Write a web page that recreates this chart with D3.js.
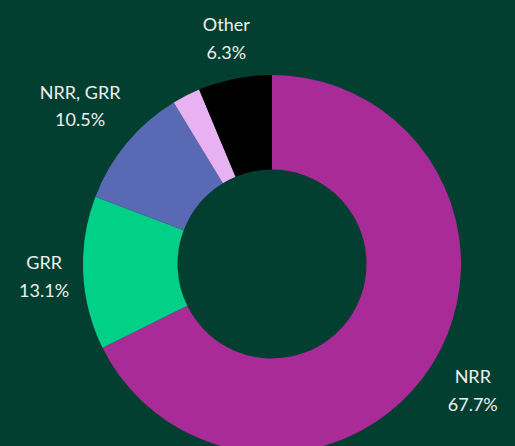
<!DOCTYPE html>
<html>
<head>
<meta charset="utf-8">
<script src="https://cdn.jsdelivr.net/npm/d3@7"></script>
<style>
  html, body { margin: 0; padding: 0; background: #023f30; }
  svg { display: block; }
</style>
</head>
<body>
<svg id="pie"></svg>
<script>
/* data */
const categories = ["NRR", "GRR", "NRR, GRR", "", "Other"];
const shares = [67.7, 13.1, 10.5, 2.4, 6.3];
const colors = ["#a82b97", "#00d088", "#5a69b4", "#e8b1f2", "#000000"];

/* chart */
!(function() {
  let width = 515;
  let height = 446;
  let cx = 272, cy = 264;
  let outer = 189, inner = 94.5;

  let svg = d3.select("#pie")
    .attr("width", width)
    .attr("height", height);

  svg.append("rect")
    .attr("width", width)
    .attr("height", height)
    .attr("fill", "#023f30");

  let g = svg.append("g")
    .attr("transform", "translate(" + cx + "," + cy + ")");

  let pie = d3.pie()
    .sort(null)
    .value(d => d);

  let arc = d3.arc()
    .outerRadius(outer)
    .innerRadius(inner);

  let arcs = pie(shares);

  g.selectAll(".arc")
    .data(arcs)
    .enter().append("path")
    .attr("class", "arc")
    .attr("d", arc)
    .attr("fill", (d, i) => colors[i]);

  // labels outside the ring, pushed out by their own box
  let lab = g.selectAll(".lab")
    .data(arcs.filter((d, i) => categories[i] !== ""))
    .enter().append("text")
    .attr("class", "lab")
    .attr("text-anchor", "middle")
    .attr("fill", "#eef0ee")
    .style("font-family", "Lato, 'Open Sans', sans-serif")
    .style("font-size", "18px");

  lab.append("tspan")
    .attr("x", 0)
    .attr("dy", "-0.35em")
    .text(d => categories[d.index]);
  lab.append("tspan")
    .attr("x", 0)
    .attr("dy", "1.55em")
    .text(d => d.value.toFixed(1) + "%");

  lab.each(function(d) {
    let bb = this.getBBox();
    let a = (d.startAngle + d.endAngle) / 2;
    let s = Math.sin(a), c = Math.cos(a);
    let r = outer + 13 + Math.abs(s) * bb.width / 2 + Math.abs(c) * bb.height / 2;
    let mx = bb.x + bb.width / 2, my = bb.y + bb.height / 2;
    d3.select(this).attr("transform",
      "translate(" + (s * r - mx) + "," + (-c * r - my + 1) + ")");
  });
})();
</script>
</body>
</html>
